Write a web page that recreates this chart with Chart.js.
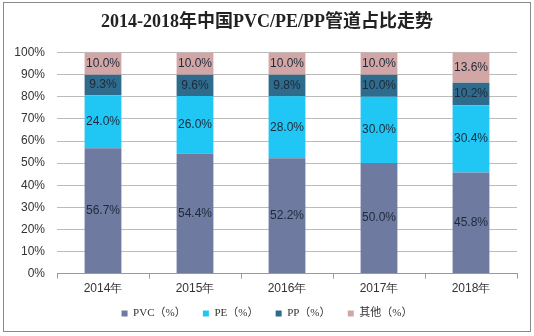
<!DOCTYPE html>
<html>
<script src="https://cdn.jsdelivr.net/npm/chart.js@4/dist/chart.umd.min.js"></script>
<body style="margin:0;background:#fff">
<div style="width:534px;height:336px">
<canvas id="myChart" width="534" height="336"></canvas>
</div>
<script>
// values
var years = ["2014年", "2015年", "2016年", "2017年", "2018年"];
var pvc = [56.7, 54.4, 52.2, 50.0, 45.8];
var pe = [24.0, 26.0, 28.0, 30.0, 30.4];
var pp = [9.3, 9.6, 9.8, 10.0, 10.2];
var other = [10.0, 10.0, 10.0, 10.0, 13.6];

// outer frame
var framePlugin = {
  id: "frame",
  beforeDraw: function (chart) {
    var ctx = chart.ctx;
    ctx.save();
    ctx.fillStyle = "#fff";
    ctx.fillRect(0, 0, chart.width, chart.height);
    ctx.strokeStyle = "#8a8a8a";
    ctx.lineWidth = 1;
    ctx.strokeRect(3.5, 2.5, 527, 329);
    ctx.restore();
  }
};

// value text in the middle of every bar piece
var labelPlugin = {
  id: "barLabels",
  afterDatasetsDraw: function (chart) {
    var ctx = chart.ctx;
    ctx.save();
    ctx.font = "12px Arial, 'Liberation Sans', sans-serif";
    ctx.fillStyle = "#1e2a3a";
    ctx.textAlign = "center";
    ctx.textBaseline = "middle";
    chart.data.datasets.forEach(function (ds, i) {
      var meta = chart.getDatasetMeta(i);
      meta.data.forEach(function (bar, j) {
        var y = (bar.y + bar.base) / 2;
        ctx.fillText(ds.data[j].toFixed(1) + "%", bar.x, y);
      });
    });
    ctx.restore();
  }
};

new Chart("myChart", {
  type: "bar",
  data: {
    labels: years,
    datasets: [
      { label: "PVC（%）", data: pvc, backgroundColor: "#6e7aa0" },
      { label: "PE（%）", data: pe, backgroundColor: "#20c6f4" },
      { label: "PP（%）", data: pp, backgroundColor: "#2f6b8c" },
      { label: "其他（%）", data: other, backgroundColor: "#d3a6a6" }
    ]
  },
  options: {
    responsive: false,
    animation: false,
    layout: { padding: { left: 0, right: 0, top: 6, bottom: 7 } },
    categoryPercentage: 1,
    barPercentage: 0.4,
    plugins: {
      title: {
        display: true,
        text: "2014-2018年中国PVC/PE/PP管道占比走势",
        font: { family: "'Liberation Serif', 'Noto Sans CJK SC', serif", size: 18, weight: "bold" },
        color: "#222",
        padding: { top: 6, bottom: 19 }
      },
      legend: {
        position: "bottom",
        labels: {
          boxWidth: 6,
          boxHeight: 6,
          padding: 9,
          color: "#333",
          font: { family: "'Liberation Serif', 'Noto Sans CJK SC', serif", size: 11 },
          generateLabels: function (chart) {
            var items = Chart.defaults.plugins.legend.labels.generateLabels(chart);
            items.forEach(function (it, i) {
              if (i < items.length - 1) it.text = it.text + "   ";
            });
            return items;
          }
        }
      },
      tooltip: { enabled: false }
    },
    scales: {
      x: {
        stacked: true,
        grid: { display: true, drawOnChartArea: false, offset: true, color: "#999", tickLength: 5 },
        border: { color: "#999" },
        ticks: { padding: 3, color: "#333", font: { family: "Arial, 'Liberation Sans', sans-serif", size: 12 } }
      },
      y: {
        stacked: true,
        min: 0,
        max: 100,
        afterFit: function (scale) { scale.width = 57; },
        grid: { color: "#bbb", drawTicks: false },
        border: { display: false },
        ticks: {
          stepSize: 10,
          padding: 12,
          color: "#333",
          font: { family: "Arial, 'Liberation Sans', sans-serif", size: 12 },
          callback: function (v) { return v + "%"; }
        }
      },
      // empty axis on the right, only to keep the plot's right margin
      yRight: {
        position: "right",
        min: 0,
        max: 100,
        afterFit: function (scale) { scale.width = 17; },
        grid: { display: false },
        border: { display: false },
        ticks: { display: false }
      }
    }
  },
  plugins: [framePlugin, labelPlugin]
});
</script>
</body>
</html>
